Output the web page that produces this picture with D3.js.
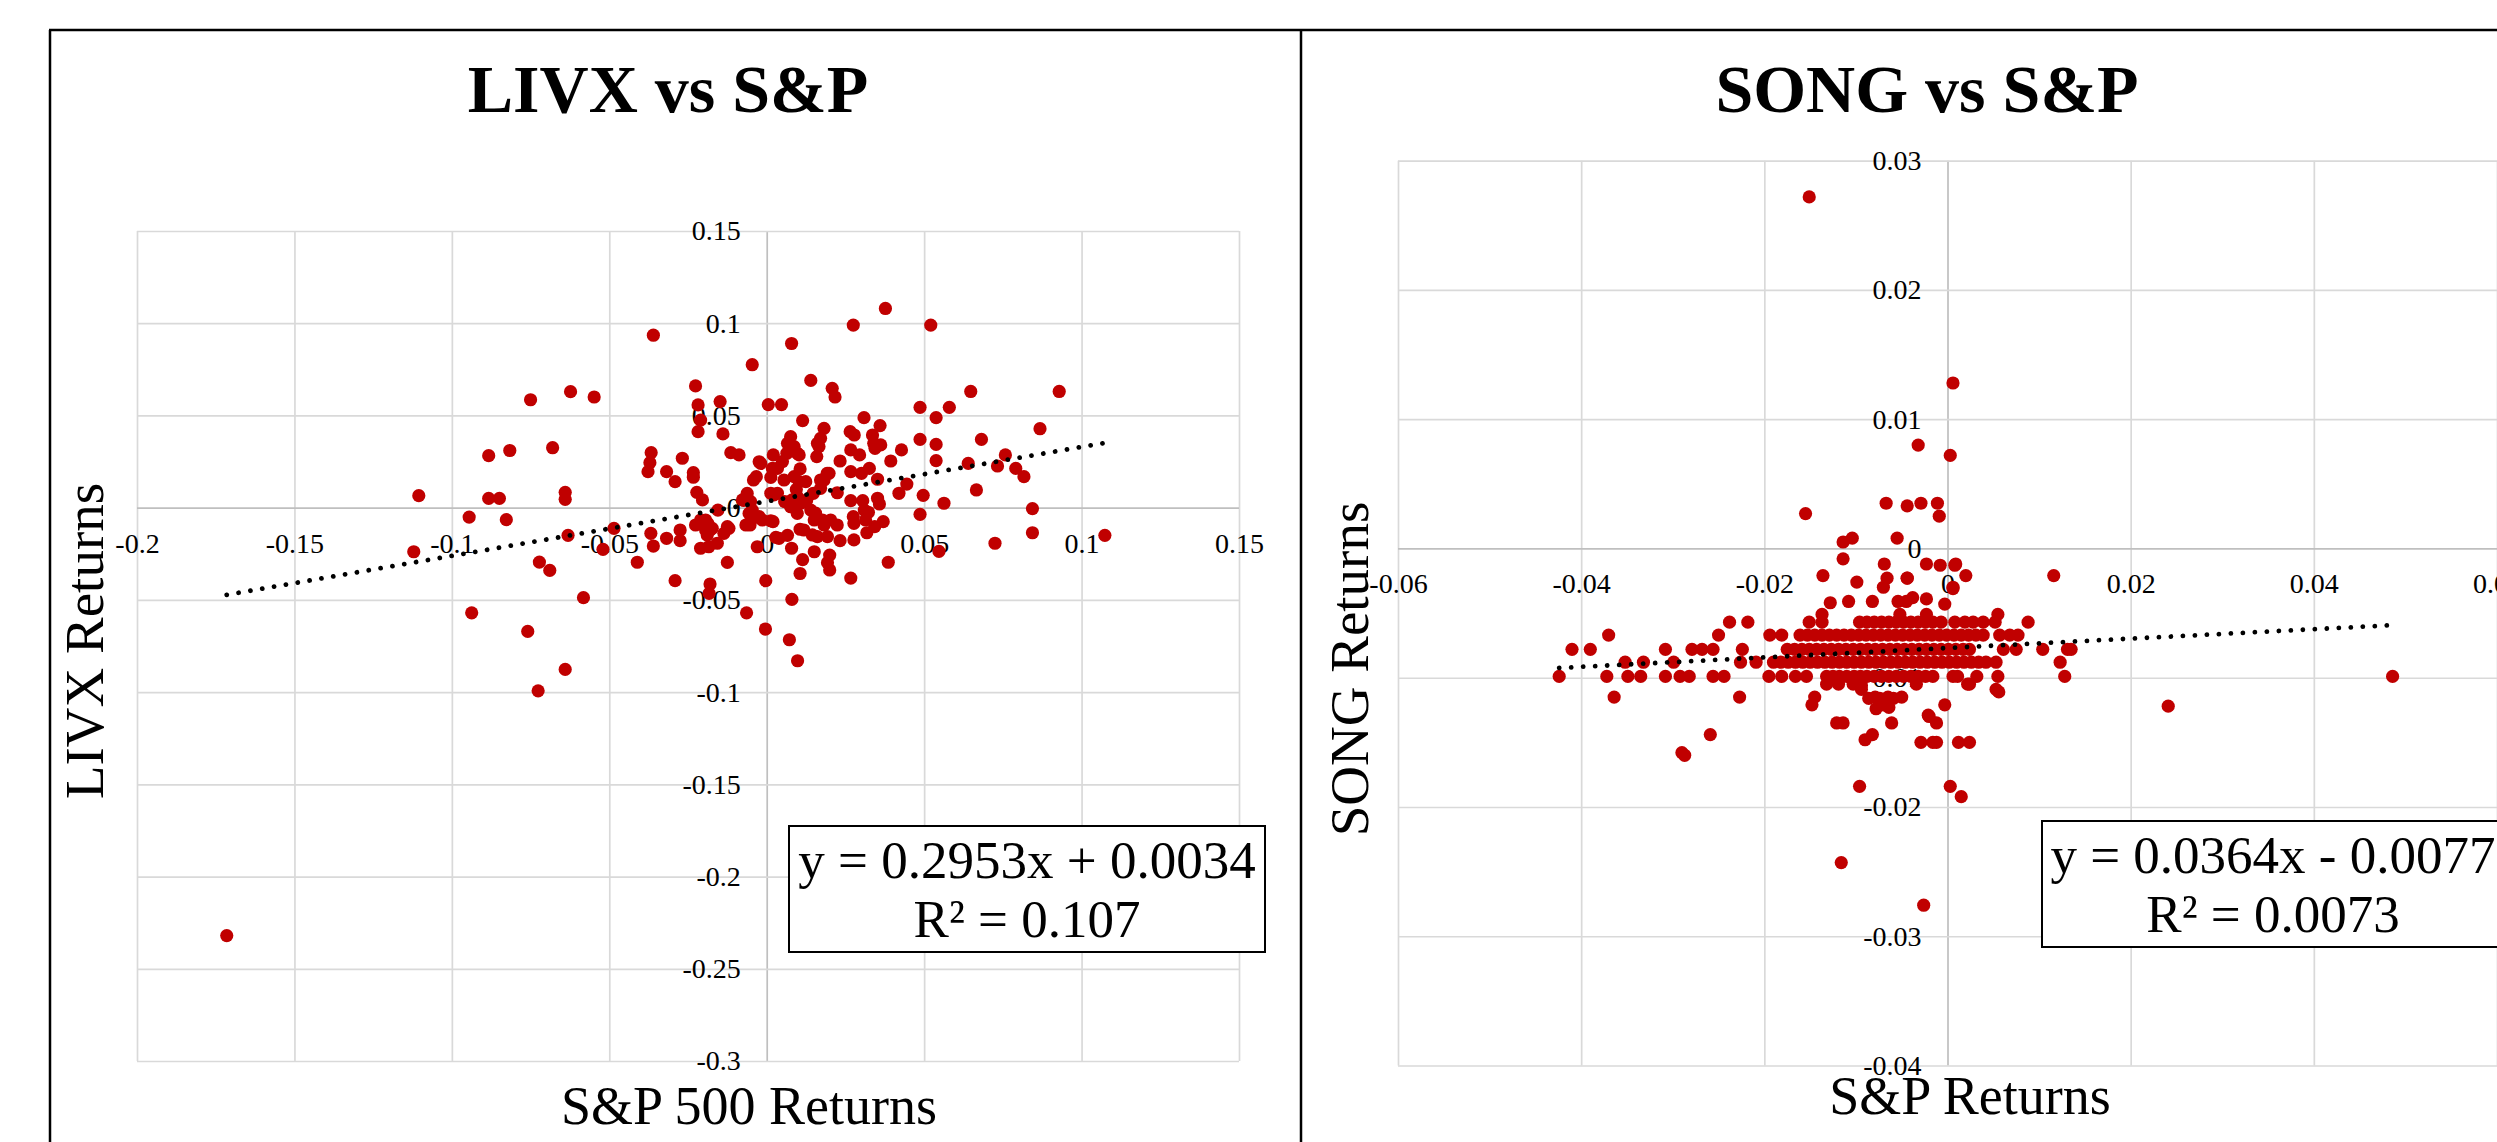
<!DOCTYPE html>
<html>
<head>
<meta charset="utf-8">
<script src="https://cdn.jsdelivr.net/npm/d3@7"></script>
<style>
  body { margin: 0; background: #fff; }
  svg { display: block; }
</style>
</head>
<body>
<script>
// LIVX monthly returns vs S&P 500 returns, [x, y]
const livxPoints = [
  [-0.1715, -0.232], [-0.1121, -0.0239], [-0.1105, 0.0065], [-0.0945, -0.0051], [-0.0937, -0.057],
  [-0.0883, 0.0282], [-0.0883, 0.005], [-0.0849, 0.005], [-0.0827, -0.0065], [-0.0816, 0.031],
  [-0.0759, -0.0671], [-0.075, 0.0585], [-0.0726, -0.0993], [-0.0722, -0.0295], [-0.0689, -0.034],
  [-0.068, 0.0325], [-0.064, -0.0877], [-0.064, 0.0083], [-0.064, 0.0045], [-0.0631, -0.015],
  [-0.0623, 0.0629], [-0.0582, -0.0488], [-0.0548, 0.06], [-0.052, -0.0226], [-0.0485, -0.0112],
  [-0.0411, -0.0296], [-0.0368, -0.0139], [-0.036, -0.0208], [-0.0367, 0.0298], [-0.0371, 0.0244],
  [-0.0377, 0.0195], [-0.036, 0.0935], [-0.0318, 0.0195], [-0.0318, -0.0166], [-0.0291, 0.0141],
  [-0.0291, -0.0396], [-0.0275, -0.0121], [-0.0275, -0.0179], [-0.0268, 0.0268], [-0.0233, 0.019],
  [-0.0233, 0.0165], [-0.0226, 0.066], [-0.0218, 0.0557], [-0.021, 0.0475], [-0.0218, 0.0412],
  [-0.0226, -0.0094], [-0.0222, 0.0083], [-0.0204, 0.0042], [-0.021, -0.022], [-0.021, -0.0067],
  [-0.0194, -0.0067], [-0.0194, -0.0121], [-0.0189, -0.0148], [-0.0187, -0.0086], [-0.0184, -0.0212],
  [-0.018, -0.0121], [-0.018, -0.0414], [-0.0183, -0.0465], [-0.0173, -0.0112], [-0.0157, -0.0193],
  [-0.0155, -0.0013], [-0.0148, 0.0575], [-0.0139, 0.04], [-0.0136, -0.0139], [-0.0125, -0.0297],
  [-0.0125, -0.0103], [-0.012, -0.0112], [-0.0114, 0.0298], [-0.0088, 0.0286], [-0.0077, 0.0042],
  [-0.0073, 0.004], [-0.0066, -0.0094], [-0.0064, -0.057], [-0.0062, 0.0077], [-0.0056, -0.0031],
  [-0.0053, -0.0094], [-0.0051, 0.0033], [-0.005, -0.0037], [-0.005, -0.0069], [-0.0046, -0.0013],
  [-0.0046, 0.0775], [-0.0042, 0.015], [-0.0033, 0.0168], [-0.003, -0.0212], [-0.0024, 0.0249],
  [-0.0024, -0.0049], [-0.0019, 0.024], [-0.0014, -0.0067], [-0.0003, -0.0396], [-0.0004, -0.0658],
  [0.0005, 0.0559], [0.0047, 0.0559], [0.0013, 0.0078], [0.0013, 0.0164], [0.0013, -0.0071],
  [0.0018, 0.0213], [0.002, -0.0076], [0.0021, 0.0286], [0.0023, 0.0069], [0.0029, -0.0161],
  [0.0034, 0.0213], [0.0034, 0.0078], [0.0039, -0.0166], [0.005, 0.025], [0.0055, 0.015],
  [0.0057, 0.0033], [0.0064, 0.0295], [0.0066, 0.0349], [0.0066, -0.015], [0.0072, -0.0716],
  [0.0076, 0.0385], [0.0076, 0.0005], [0.0079, 0.089], [0.008, -0.0497], [0.0079, -0.022],
  [0.0081, 0.0042], [0.0087, 0.0331], [0.0087, 0.0168], [0.0094, 0.0099], [0.0097, 0.006],
  [0.0097, 0.0295], [0.0098, -0.083], [0.0097, -0.0031], [0.0103, 0.0286], [0.0103, 0.0141],
  [0.0106, 0.021], [0.0106, -0.0117], [0.0106, -0.0357], [0.0108, 0.0024], [0.0114, 0.0472],
  [0.0114, -0.0282], [0.0118, -0.0121], [0.0124, 0.0141], [0.0127, 0.0042], [0.014, 0.069],
  [0.014, -0.0013], [0.0145, -0.0148], [0.0148, 0.0078], [0.0151, -0.0067], [0.0151, -0.0239],
  [0.0155, -0.003], [0.0159, 0.0277], [0.0161, 0.0349], [0.0161, -0.0157], [0.0166, 0.0331],
  [0.0171, 0.0376], [0.0171, 0.015], [0.0171, 0.0105], [0.0177, -0.0067], [0.0182, 0.043],
  [0.0182, 0.015], [0.0182, -0.0094], [0.0192, 0.0186], [0.0193, -0.0157], [0.0193, -0.0298],
  [0.0198, 0.0186], [0.02, -0.0257], [0.02, -0.0338], [0.0203, -0.0067], [0.0208, 0.0647],
  [0.0217, 0.06], [0.0224, 0.0081], [0.0224, -0.0094], [0.0233, 0.0253], [0.0233, -0.0179],
  [0.0265, 0.0412], [0.0267, 0.0038], [0.0267, 0.0195], [0.0267, -0.0382], [0.0267, 0.0313],
  [0.0275, 0.099], [0.0275, -0.0049], [0.0277, -0.0085], [0.0277, -0.0175], [0.0278, 0.0394],
  [0.0295, 0.0286], [0.0301, 0.0186], [0.0305, 0.0038], [0.0309, 0.0488], [0.031, -0.0013],
  [0.0314, -0.0067], [0.0318, -0.0136], [0.0323, -0.0025], [0.0326, 0.0213], [0.0336, 0.0394],
  [0.034, 0.0349], [0.0343, -0.0103], [0.0344, 0.0322], [0.0352, 0.0154], [0.0352, 0.0051],
  [0.0358, 0.002], [0.036, 0.0445], [0.0362, 0.034], [0.037, -0.0076], [0.0377, 0.108],
  [0.0386, -0.0296], [0.0394, 0.0253], [0.042, 0.0078], [0.0428, 0.0313], [0.0445, 0.0128],
  [0.0487, 0.0544], [0.0487, 0.037], [0.0487, -0.0036], [0.0497, 0.0067], [0.0521, 0.099],
  [0.0538, 0.0488], [0.0538, 0.0343], [0.0538, 0.0255], [0.0547, -0.0237], [0.0563, 0.0024],
  [0.058, 0.0544], [0.064, 0.024], [0.0648, 0.063], [0.0666, 0.0096], [0.0682, 0.037],
  [0.0725, -0.0193], [0.0733, 0.0226], [0.0758, 0.0286], [0.0791, 0.0213], [0.0817, 0.0168],
  [0.0844, -0.0005], [0.0844, -0.0136], [0.0868, 0.0428], [0.0929, 0.063], [0.1074, -0.015]
];

// SONG daily returns vs S&P returns, [x, y]
const songPoints = [
  // row near -0.0099
  [-0.0424, -0.0099], [-0.0372, -0.0099], [-0.0349, -0.0099], [-0.0335, -0.0099], [-0.0308, -0.0099],
  [-0.0292, -0.0099], [-0.0282, -0.0099], [-0.0256, -0.0099], [-0.0244, -0.0099], [-0.0195, -0.0099],
  [-0.0181, -0.0099], [-0.0166, -0.0099], [-0.0154, -0.0099], [-0.0132, -0.0099], [-0.0125, -0.0099],
  [-0.0118, -0.0099], [-0.011, -0.0099], [-0.0102, -0.0099], [-0.0095, -0.0099], [-0.0088, -0.0099],
  [-0.008, -0.0099], [-0.0072, -0.0099], [-0.0064, -0.0099], [-0.0056, -0.0099], [-0.0048, -0.0099],
  [-0.004, -0.0099], [-0.0032, -0.0099], [-0.0024, -0.0099], [-0.0016, -0.0099], [0.0006, -0.0099],
  [0.0011, -0.0099], [0.0032, -0.0099], [0.0055, -0.0099], [0.0128, -0.0099], [0.0486, -0.0099],
  // row near -0.0088
  [-0.0352, -0.0088], [-0.0332, -0.0088], [-0.0299, -0.0088], [-0.0226, -0.0088], [-0.0209, -0.0088],
  [-0.019, -0.0088], [-0.0182, -0.0088], [-0.0174, -0.0088], [-0.0166, -0.0088], [-0.0158, -0.0088],
  [-0.015, -0.0088], [-0.0142, -0.0088], [-0.0134, -0.0088], [-0.0126, -0.0088], [-0.0118, -0.0088],
  [-0.011, -0.0088], [-0.0102, -0.0088], [-0.0094, -0.0088], [-0.0086, -0.0088], [-0.0078, -0.0088],
  [-0.007, -0.0088], [-0.0062, -0.0088], [-0.0054, -0.0088], [-0.0046, -0.0088], [-0.0038, -0.0088],
  [-0.003, -0.0088], [-0.0022, -0.0088], [-0.0014, -0.0088], [-0.0006, -0.0088], [0.0002, -0.0088],
  [0.001, -0.0088], [0.0018, -0.0088], [0.0026, -0.0088], [0.0034, -0.0088], [0.0042, -0.0088],
  [0.0053, -0.0088], [0.0123, -0.0088],
  // row near -0.0078
  [-0.041, -0.0078], [-0.039, -0.0078], [-0.0308, -0.0078], [-0.0279, -0.0078], [-0.0268, -0.0078],
  [-0.0256, -0.0078], [-0.0224, -0.0078], [-0.0175, -0.0078], [-0.0167, -0.0078], [-0.0159, -0.0078],
  [-0.0151, -0.0078], [-0.0143, -0.0078], [-0.0135, -0.0078], [-0.0127, -0.0078], [-0.0119, -0.0078],
  [-0.0111, -0.0078], [-0.0103, -0.0078], [-0.0095, -0.0078], [-0.0087, -0.0078], [-0.0079, -0.0078],
  [-0.0071, -0.0078], [-0.0063, -0.0078], [-0.0055, -0.0078], [-0.0047, -0.0078], [-0.0039, -0.0078],
  [-0.0031, -0.0078], [-0.0023, -0.0078], [-0.0015, -0.0078], [-0.0007, -0.0078], [0.0001, -0.0078],
  [0.0009, -0.0078], [0.0017, -0.0078], [0.0024, -0.0078], [0.0061, -0.0078], [0.0075, -0.0078],
  [0.0104, -0.0078], [0.0131, -0.0078], [0.0135, -0.0078],
  // row near -0.0067
  [-0.037, -0.0067], [-0.025, -0.0067], [-0.0194, -0.0067], [-0.0181, -0.0067], [-0.0161, -0.0067],
  [-0.0153, -0.0067], [-0.0145, -0.0067], [-0.0137, -0.0067], [-0.0129, -0.0067], [-0.0121, -0.0067],
  [-0.0113, -0.0067], [-0.0105, -0.0067], [-0.0097, -0.0067], [-0.0089, -0.0067], [-0.0081, -0.0067],
  [-0.0073, -0.0067], [-0.0065, -0.0067], [-0.0057, -0.0067], [-0.0049, -0.0067], [-0.0041, -0.0067],
  [-0.0033, -0.0067], [-0.0025, -0.0067], [-0.0017, -0.0067], [-0.0009, -0.0067], [-0.0001, -0.0067],
  [0.0007, -0.0067], [0.0015, -0.0067], [0.0023, -0.0067], [0.0031, -0.0067], [0.0039, -0.0067],
  [0.0057, -0.0067], [0.0068, -0.0067], [0.0077, -0.0067],
  // row near -0.0057
  [-0.0238, -0.0057], [-0.0218, -0.0057], [-0.0151, -0.0057], [-0.0137, -0.0057], [-0.0096, -0.0057],
  [-0.0088, -0.0057], [-0.008, -0.0057], [-0.0072, -0.0057], [-0.0064, -0.0057], [-0.0056, -0.0057],
  [-0.0048, -0.0057], [-0.004, -0.0057], [-0.0032, -0.0057], [-0.0024, -0.0057], [-0.0016, -0.0057],
  [-0.0007, -0.0057], [0.0008, -0.0057], [0.0019, -0.0057], [0.0028, -0.0057], [0.0039, -0.0057],
  [0.0052, -0.0057], [0.0088, -0.0057],
  // scattered above the band
  [-0.0137, -0.0051], [-0.0052, -0.0051], [-0.0023, -0.0051], [0.0055, -0.0051],
  [-0.0128, -0.0042], [-0.0108, -0.0041], [-0.0082, -0.0041], [-0.0054, -0.0041], [-0.0045, -0.0041],
  [-0.0038, -0.0038], [-0.0023, -0.0039], [-0.0003, -0.0043],
  [-0.007, -0.003], [0.0006, -0.003], [-0.0099, -0.0026], [-0.0066, -0.0023], [-0.0044, -0.0023],
  [-0.0136, -0.0021], [0.002, -0.0021], [0.0116, -0.0021], [-0.0044, -0.0023],
  [-0.0069, -0.0012], [-0.0023, -0.0012], [-0.0008, -0.0013], [0.0009, -0.0012], [0.0008, -0.0013],
  [-0.0114, -0.0008], [0.0006, -0.0031],
  [-0.0114, 0.0005], [-0.0104, 0.0008], [-0.0055, 0.0008],
  [-0.0155, 0.0027], [-0.0067, 0.0035], [-0.0044, 0.0033], [-0.0029, 0.0035], [-0.0011, 0.0035],
  [-0.0009, 0.0025], [-0.0032, 0.008], [0.0003, 0.0072], [0.0006, 0.0128], [-0.0151, 0.0272],
  // scattered below the band
  [-0.0132, -0.0105], [-0.0119, -0.0105], [-0.0103, -0.0105], [-0.0094, -0.0106], [-0.0034, -0.0105],
  [0.0022, -0.0105], [-0.0094, -0.0109], [0.0053, -0.0109], [0.0024, -0.0105], [0.0056, -0.0111],
  [-0.0364, -0.0115], [-0.0227, -0.0115], [-0.0145, -0.0115], [-0.0079, -0.0115], [-0.0065, -0.0115],
  [-0.005, -0.0115], [-0.0086, -0.0116], [-0.0074, -0.0116], [-0.0059, -0.0116],
  [-0.0148, -0.0121], [-0.007, -0.0121], [-0.0003, -0.0121], [-0.0064, -0.0123], [-0.0078, -0.0124],
  [-0.0021, -0.0129], [0.0241, -0.0122], [-0.002, -0.013],
  [-0.0121, -0.0135], [-0.0114, -0.0135], [-0.0061, -0.0135], [-0.0012, -0.0135],
  [-0.0259, -0.0144], [-0.0082, -0.0144], [-0.009, -0.0148],
  [-0.0029, -0.015], [-0.0016, -0.015], [-0.0012, -0.015], [0.0012, -0.015], [0.0024, -0.015],
  [-0.029, -0.0158], [-0.0287, -0.016],
  [-0.0096, -0.0184], [0.0003, -0.0184], [0.0015, -0.0192],
  [-0.0116, -0.0243], [-0.0026, -0.0276]
];

const livxXTicks = [-0.2, -0.15, -0.1, -0.05, 0, 0.05, 0.1, 0.15];
const livxYTicks = [0.15, 0.1, 0.05, 0, -0.05, -0.1, -0.15, -0.2, -0.25, -0.3];
const songXTicks = [-0.06, -0.04, -0.02, 0, 0.02, 0.04, 0.06];
const songYTicks = [0.03, 0.02, 0.01, 0, -0.01, -0.02, -0.03, -0.04];

const livxTrend = [0.2953, 0.0034];   // slope, intercept
const songTrend = [0.0364, -0.0077];
const livxLabel = ["y = 0.2953x + 0.0034", "R\u00b2 = 0.107"];
const songLabel = ["y = 0.0364x - 0.0077", "R\u00b2 = 0.0073"];

const W = 2497, H = 1142;
const serif = "'Liberation Serif', 'Times New Roman', Times, serif";
const dotColor = "#c00000";

const svg = d3.select("body")
    .append("svg")
    .attr("width", W)
    .attr("height", H)
    .attr("font-family", serif);

svg.append("rect").attr("width", W).attr("height", H).attr("fill", "#fff");

function drawChart(c) {
    const x = d3.scaleLinear().domain(c.xDomain).range([c.left, c.right]);
    const y = d3.scaleLinear().domain(c.yDomain).range([c.bottom, c.top]);
    const g = svg.append("g");

    // gridlines
    const gx = g.append("g")
        .attr("transform", `translate(0,${c.bottom})`)
        .call(d3.axisBottom(x).tickValues(c.xTicks).tickSize(-(c.bottom - c.top)).tickFormat(""));
    const gy = g.append("g")
        .attr("transform", `translate(${c.left},0)`)
        .call(d3.axisLeft(y).tickValues(c.yTicks).tickSize(-(c.right - c.left)).tickFormat(""));
    [gx, gy].forEach((a) => {
        a.select(".domain").remove();
        a.selectAll(".tick line")
            .attr("stroke", (d) => (d === 0 ? "#bfbfbf" : "#d9d9d9"))
            .attr("stroke-width", 1.7);
    });
    gx.selectAll(".tick").filter((d) => d === 0).raise();
    gy.raise();
    gy.selectAll(".tick").filter((d) => d === 0).raise();

    // tick labels sit next to the zero axes
    const lx = g.append("g")
        .attr("transform", `translate(0,${y(0)})`)
        .call(d3.axisBottom(x).tickValues(c.xTicks).tickSize(0).tickPadding(25).tickFormat((d) => String(d)));
    const ly = g.append("g")
        .attr("transform", `translate(${x(0)},0)`)
        .call(d3.axisLeft(y).tickValues(c.yTicks).tickSize(0).tickPadding(26).tickFormat((d) => String(d)));
    [lx, ly].forEach((a) => {
        a.select(".domain").remove();
        a.attr("font-family", serif).attr("font-size", 28);
        a.selectAll("text").attr("fill", "#000");
    });

    // points
    g.append("g")
        .selectAll("circle")
        .data(c.points)
        .enter()
        .append("circle")
        .attr("cx", (d) => x(d[0]))
        .attr("cy", (d) => y(d[1]))
        .attr("r", 6.6)
        .attr("fill", dotColor);

    // linear trendline over the data range
    const ext = d3.extent(c.points, (d) => d[0]);
    const line = d3.line().x((d) => x(d)).y((d) => y(c.trend[0] * d + c.trend[1]));
    g.append("path")
        .attr("d", line(ext))
        .attr("fill", "none")
        .attr("stroke", "#000")
        .attr("stroke-width", 4.8)
        .attr("stroke-linecap", "round")
        .attr("stroke-dasharray", "0.01 12");

    // equation box
    g.append("rect")
        .attr("x", c.box[0])
        .attr("y", c.box[1])
        .attr("width", c.box[2])
        .attr("height", c.box[3])
        .attr("fill", "#fff")
        .attr("stroke", "#000")
        .attr("stroke-width", 2);
    g.selectAll(".eq")
        .data(c.label)
        .enter()
        .append("text")
        .attr("class", "eq")
        .attr("x", c.box[0] + c.box[2] / 2)
        .attr("y", (d, i) => c.box[1] + 52 + i * 59)
        .attr("text-anchor", "middle")
        .attr("font-size", 53)
        .text((d) => d);

    // titles
    g.append("text")
        .attr("x", c.titleX)
        .attr("y", 112)
        .attr("text-anchor", "middle")
        .attr("font-size", 68)
        .attr("font-weight", "bold")
        .text(c.title);
    g.append("text")
        .attr("x", c.xTitle[0])
        .attr("y", c.xTitle[1])
        .attr("text-anchor", "middle")
        .attr("font-size", 54)
        .text(c.xLabel);
    g.append("text")
        .attr("transform", `translate(${c.yTitle[0]},${c.yTitle[1]}) rotate(-90)`)
        .attr("text-anchor", "middle")
        .attr("font-size", 55)
        .text(c.yLabel);
}

drawChart({
    points: livxPoints, trend: livxTrend, label: livxLabel,
    xTicks: livxXTicks, yTicks: livxYTicks,
    xDomain: [-0.2, 0.15], yDomain: [-0.3, 0.15],
    left: 137, right: 1239, top: 231, bottom: 1061,
    box: [789, 826, 476, 126],
    title: "LIVX vs S&P", titleX: 668,
    xLabel: "S&P 500 Returns", xTitle: [749, 1124],
    yLabel: "LIVX Returns", yTitle: [103, 641]
});

drawChart({
    points: songPoints, trend: songTrend, label: songLabel,
    xTicks: songXTicks, yTicks: songYTicks,
    xDomain: [-0.06, 0.06], yDomain: [-0.04, 0.03],
    left: 1398, right: 2497, top: 160.7, bottom: 1065.5,
    box: [2042, 821, 462, 126],
    title: "SONG vs S&P", titleX: 1927,
    xLabel: "S&P Returns", xTitle: [1970, 1114],
    yLabel: "SONG Returns", yTitle: [1368, 669]
});

// outer frame of the two chart areas
const frame = svg.append("g").attr("stroke", "#000").attr("stroke-width", 2.5);
frame.append("line").attr("x1", 49).attr("x2", W).attr("y1", 30).attr("y2", 30);
frame.append("line").attr("x1", 50).attr("x2", 50).attr("y1", 30).attr("y2", H);
frame.append("line").attr("x1", 1301).attr("x2", 1301).attr("y1", 30).attr("y2", H);
</script>
</body>
</html>
